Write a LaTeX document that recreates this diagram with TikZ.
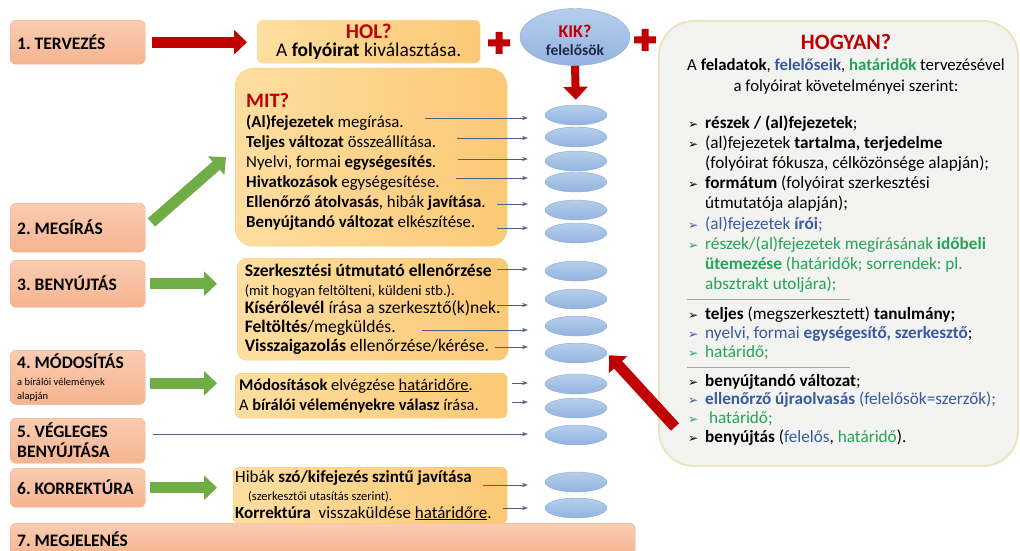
\documentclass[tikz,border=0pt]{standalone}
\usepackage{fontspec}
\setmainfont{Carlito}
\newfontfamily\jelfont{DejaVu Sans}
\usetikzlibrary{
        arrows.meta,
        positioning,
        shapes.geometric
    }
\definecolor{piros}{RGB}{192,0,0}
\definecolor{zold}{RGB}{112,173,71}
\definecolor{lazacvil}{RGB}{250,204,178}
\definecolor{lazac}{RGB}{245,180,144}
\definecolor{lazacszel}{RGB}{240,172,138}
\definecolor{narancsvil}{RGB}{254,222,160}
\definecolor{narancs}{RGB}{251,201,118}
\definecolor{narancsszel}{RGB}{250,200,120}
\definecolor{halvany}{RGB}{255,243,212}
\definecolor{halvanyszel}{RGB}{250,226,170}
\definecolor{kekvil}{RGB}{182,206,236}
\definecolor{kekfill}{RGB}{146,180,224}
\definecolor{kekszel}{RGB}{140,170,212}
\definecolor{szurke}{RGB}{243,243,242}
\definecolor{bezs}{RGB}{234,228,196}
\definecolor{nyilszin}{RGB}{80,95,125}
\definecolor{kekbetu}{RGB}{55,90,160}
\definecolor{zoldbetu}{RGB}{35,165,85}
\definecolor{sotet}{RGB}{30,40,70}
\tikzset{>=Stealth,auto}
\frenchspacing

\newcommand{\pont}[1]{\makebox[17pt][l]{\textcolor{#1}{\jelfont\fontsize{12}{12}\selectfont ➢}}}
\newcommand{\kk}[1]{\textcolor{kekbetu}{#1}}
\newcommand{\zz}[1]{\textcolor{zoldbetu}{#1}}
\newcommand{\kerdes}[2][18]{{\color{piros}\bfseries\fontsize{#1}{#1}\selectfont #2}}

\begin{document}
\begin{tikzpicture}[x=1pt,y=-1pt,
        lepes/.style={rectangle,rounded corners=6pt,top color=lazacvil,bottom color=lazac,draw=lazacszel,
            anchor=north west,text width=121pt,inner xsep=7pt,align=flush left,
            font=\bfseries\fontsize{17.5}{20}\selectfont},
        doboz/.style={rectangle,left color=narancsvil,right color=narancs,draw=narancsszel,anchor=north west,
            align=flush left,font=\fontsize{16.8}{20}\selectfont},
        kicsi/.style={ellipse,top color=kekvil,bottom color=kekfill,draw=kekszel,minimum width=62pt,
            minimum height=20pt,inner sep=0pt},
        lista/.style={anchor=base west,text width=330pt,align=flush left,inner sep=0pt},
        kisnyil/.style={->,draw=nyilszin,line width=0.6pt,shorten >=17pt},
        vastag/.style={line width=11pt,-{Triangle[length=13pt,width=24pt]}}]
    \useasboundingbox (0,0) rectangle (1020,551);

    % HOGYAN
    \node[rectangle,rounded corners=35pt,fill=szurke,draw=bezs,line width=2pt,
        anchor=north west,minimum width=359pt,minimum height=445pt] (hogyan) at (658,20) {};
    \node[anchor=base,text width=350pt,align=flush center,inner sep=0pt,
        font=\fontsize{16.8}{21.5}\selectfont] (hcim) at (846,49)
        {\kerdes[22]{HOGYAN?}\\
         A \textbf{feladatok}, \kk{\textbf{felelőseik}}, \zz{\textbf{határidők}} tervezésével\\
         a folyóirat követelményei szerint:};
    \node[lista,font=\fontsize{17.2}{20.2}\selectfont] (h1) at (688,128)
        {\pont{black}\textbf{részek / (al)fejezetek};\\
         \pont{black}(al)fejezetek \textbf{tartalma, terjedelme}\\
         \hspace*{17pt}(folyóirat fókusza, célközönsége alapján);\\
         \pont{black}\textbf{formátum} (folyóirat szerkesztési\\
         \hspace*{17pt}útmutatója alapján);\\
         \pont{kekbetu}\kk{(al)fejezetek \textbf{írói};}\\
         \pont{zoldbetu}\zz{részek/(al)fejezetek megírásának \textbf{időbeli}}\\
         \hspace*{17pt}\zz{\textbf{ütemezése} (határidők; sorrendek: pl.}\\
         \hspace*{17pt}\zz{absztrakt utoljára);}};
    \node[lista,font=\fontsize{17.2}{19.2}\selectfont] (h2) at (688,319)
        {\pont{black}\textbf{teljes} (megszerkesztett) \textbf{tanulmány;}\\
         \pont{kekbetu}\kk{nyelvi, formai \textbf{egységesítő, szerkesztő}};\\
         \pont{zoldbetu}\zz{határidő;}};
    \node[lista,font=\fontsize{17.2}{18.8}\selectfont] (h3) at (688,386)
        {\pont{black}\textbf{benyújtandó változat};\\
         \pont{kekbetu}\kk{\textbf{ellenőrző újraolvasás} (felelősök=szerzők);}\\
         \pont{zoldbetu}\zz{\ határidő;}\\
         \pont{black}\textbf{benyújtás} (\kk{felelős}, \zz{határidő}).};
    \draw[gray!70,line width=0.7pt] (687,299) -- (850,299) (687,367) -- (850,367);

    % lepesek
    \node[lepes,minimum height=44pt] (t1) at (10,20) {1. TERVEZÉS};
    \node[lepes,minimum height=49pt] (t2) at (10,203) {2. MEGÍRÁS};
    \node[lepes,minimum height=47pt] (t3) at (10,260) {3. BENYÚJTÁS};
    \node[lepes,minimum height=54pt] (t4) at (10,350)
        {4. MÓDOSÍTÁS\\[-3pt]{\mdseries\fontsize{10.5}{12}\selectfont a bírálói vélemények}\\[-6pt]
         {\mdseries\fontsize{10.5}{12}\selectfont alapján}};
    \node[lepes,minimum height=45pt] (t5) at (10,418) {5. VÉGLEGES\\BENYÚJTÁSA};
    \node[lepes,minimum height=39pt] (t6) at (10,468) {6. KORREKTÚRA};
    \node[lepes,minimum height=33pt,text width=611pt] (t7) at (10,523) {7. MEGJELENÉS};

    % HOL, KIK
    \node[doboz,fill=halvany,draw=halvanyszel,rounded corners=5pt,align=flush center,
        text width=215pt,inner xsep=4pt,inner ysep=2pt,minimum height=43pt,
        font=\fontsize{19.4}{18.5}\selectfont] (hol) at (257,20)
        {\kerdes[21]{HOL?}\\A \textbf{folyóirat} kiválasztása.};
    \node[ellipse,top color=kekvil,bottom color=kekfill,draw=kekszel,minimum width=110pt,minimum height=57pt,
        inner sep=0pt,align=center,font=\fontsize{15.5}{18}\selectfont] (kik) at (575,37)
        {\rule{0pt}{20pt}\kerdes[18]{KIK?}\\{\bfseries\color{sotet}felelősök}};
    \fill[piros] (488,39.5) rectangle (510,46.5) (495.5,32) rectangle (502.5,54);
    \fill[piros] (634,36.5) rectangle (656,43.5) (641.5,29) rectangle (648.5,51);

    % MIT
    \node[doboz,rounded corners=18pt,text width=250pt,inner xsep=11pt,minimum height=178pt] (mit) at (235,68)
        {\rule{0pt}{23pt}\kerdes[20.5]{MIT?}\\
         \textbf{(Al)fejezetek} megírása.\\
         \textbf{Teljes változat} összeállítása.\\
         Nyelvi, formai \textbf{egységesítés}.\\
         \textbf{Hivatkozások} egységesítése.\\
         \textbf{Ellenőrző átolvasás}, hibák \textbf{javítása}.\\
         \textbf{Benyújtandó változat} elkészítése.};
    \node[doboz,rounded corners=10pt,inner xsep=7pt,minimum width=271pt,minimum height=102pt,
        font=\fontsize{17.6}{18.8}\selectfont] (beny) at (237,258)
        {\textbf{Szerkesztési útmutató ellenőrzése}\\
         {\fontsize{14.5}{14}\selectfont (mit hogyan feltölteni, küldeni stb.).}\\
         \textbf{Kísérőlevél} írása a szerkesztő(k)nek.\\
         \textbf{Feltöltés}/megküldés.\\
         \textbf{Visszaigazolás} ellenőrzése/kérése.};
    \node[doboz,rounded corners=6pt,text width=264pt,inner xsep=4pt,minimum height=45pt,
        font=\fontsize{16.4}{20}\selectfont] (mod) at (235,373)
        {\textbf{Módosítások} elvégzése \underline{határidőre}.\\
         A \textbf{bírálói véleményekre válasz} írása.};
    \node[doboz,rounded corners=6pt,text width=270pt,inner xsep=2pt,minimum height=53pt,
        font=\fontsize{17}{17.8}\selectfont] (korr) at (233,467)
        {Hibák \textbf{szó/kifejezés szintű javítása}\\
         \hspace*{13pt}{\fontsize{12.5}{14}\selectfont (szerkesztői utasítás szerint).}\\
         \textbf{Korrektúra}\ \ visszaküldése \underline{határidőre}.};

    % felelosok
    \foreach \i/\y in {1/115,2/137,3/161,4/182,5/210,6/233,7/271,8/299,
                       9/326,10/353,11/384,12/408,13/435,14/482,15/508}
        \node[kicsi] (e\i) at (576,\y) {};
    \foreach \i/\x/\y in {1/425/118,2/457/138,3/458/159,4/456/178,5/497/204,
                          6/497/228,7/497/269,8/497/305,9/422/330,10/495/347,
                          11/512/383,12/512/402,13/153/434,14/483/485,15/503/508}
        \coordinate (s\i) at (\x,\y);
    \foreach \i in {1,...,15}
        \draw[kisnyil] (s\i) -- (s\i -| e\i.west);

    % nagy nyilak
    \coordinate (hn) at (675,427);
    \draw[vastag,piros,shorten <=7pt,shorten >=10pt] (t1.east) -- (t1.east -| hol.west);
    \draw[vastag,piros,line width=8pt,shorten >=5pt] (kik.south) -- (e1.north);
    \draw[vastag,piros,shorten >=3pt] (hn) -- (e10.east);
    \draw[vastag,zold,shorten <=8pt,shorten >=12pt] (t2.east) -- ([yshift=8pt]mit.west);
    \draw[vastag,zold,shorten <=5pt,shorten >=20pt] (t3.east) -- (t3.east -| beny.west);
    \draw[vastag,zold,shorten <=5pt,shorten >=18pt] ([yshift=-6pt]t4.east) -- ([yshift=-6pt]t4.east -| mod.west);
    \draw[vastag,zold,shorten <=5pt,shorten >=16pt] (t6.east) -- (t6.east -| korr.west);
\end{tikzpicture}
\end{document}
